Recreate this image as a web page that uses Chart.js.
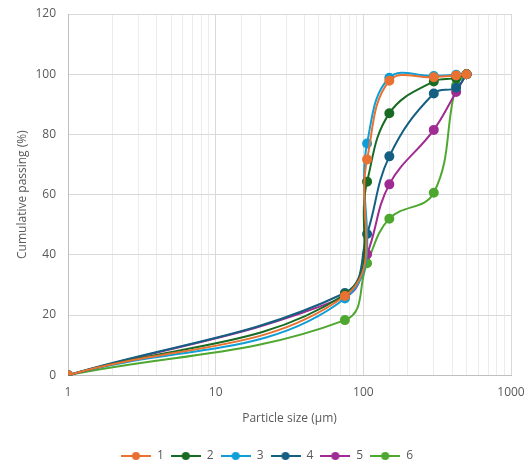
<!DOCTYPE html>
<html>
<head>
<meta charset="utf-8">
<script src="https://cdn.jsdelivr.net/npm/chart.js@4"></script>
<style>
  html, body { margin: 0; padding: 0; background: #fff; }
  #wrap { width: 531px; height: 463px; }
</style>
</head>
<body>
<div id="wrap"><canvas id="psd"></canvas></div>
<script>
// --- Data ---
const sizes = [1, 75, 106, 150, 300, 425, 500];
const seriesNames = ['1', '2', '3', '4', '5', '6'];
const series1 = [0, 26.3, 71.7, 97.8, 99.0, 99.6, 100];
const series2 = [0, 26.8, 64.3, 87.0, 97.6, 98.7, 100];
const series3 = [0, 25.5, 77.0, 98.8, 99.4, 99.8, 100];
const series4 = [0, 27.3, 46.9, 72.7, 93.6, 95.5, 100];
const series5 = [0, 26.0, 40.2, 63.4, 81.5, 94.1, 100];
const series6 = [0, 18.3, 37.2, 52.0, 60.6, 96.3, 100];
const yTicks = [0, 20, 40, 60, 80, 100, 120];
const xLabels = [1, 10, 100, 1000];

const colors = ['#E97132', '#196B24', '#0F9ED5', '#156082', '#A02B93', '#4EA72E'];
const allSeries = [series1, series2, series3, series4, series5, series6];
const textColor = '#595959';
const font = "'Open Sans', 'Liberation Sans', sans-serif";
const legendPad = 7;

// little line+marker swatch for the legend
function makeSwatch(color) {
    const c = document.createElement('canvas');
    c.width = 30;
    c.height = 10;
    const g = c.getContext('2d');
    g.strokeStyle = color;
    g.lineWidth = 2;
    g.beginPath();
    g.moveTo(0, 5);
    g.lineTo(30, 5);
    g.stroke();
    g.fillStyle = color;
    g.beginPath();
    g.arc(15, 5, 4, 0, Math.PI * 2);
    g.fill();
    return c;
}

// push the legend row a bit lower / right than the layout puts it
const legendNudge = {
    id: 'legendNudge',
    afterLayout(chart) {
        const lg = chart.legend;
        if (!lg) return;
        const shift = 456 - (lg.top + legendPad + 6);
        lg.top += shift;
        lg.bottom += shift;
        lg.left += 4;
        lg.right += 4;
    }
};

const datasets = allSeries.map((vals, i) => ({
    label: seriesNames[i],
    data: vals.map((v, j) => ({ x: sizes[j], y: v })),
    borderColor: colors[i],
    backgroundColor: colors[i],
    borderWidth: 2,
    pointRadius: 4,
    pointHoverRadius: 4,
    tension: 0.4,
    fill: false
}));

Chart.defaults.font.family = font;
Chart.defaults.color = textColor;

new Chart(document.getElementById('psd'), {
    type: 'line',
    data: { datasets: datasets },
    plugins: [legendNudge],
    options: {
        responsive: true,
        maintainAspectRatio: false,
        animation: false,
        layout: {
            autoPadding: false,
            padding: { left: 15, right: 20, top: 14, bottom: 0 }
        },
        plugins: {
            legend: {
                position: 'bottom',
                labels: {
                    usePointStyle: true,
                    pointStyleWidth: 30,
                    padding: legendPad,
                    font: { size: 12 },
                    color: textColor,
                    generateLabels: function(chart) {
                        return chart.data.datasets.map((ds, i) => ({
                            text: ds.label,
                            pointStyle: makeSwatch(colors[i]),
                            fillStyle: colors[i],
                            strokeStyle: colors[i],
                            lineWidth: 0,
                            fontColor: textColor,
                            datasetIndex: i
                        }));
                    }
                }
            },
            tooltip: { enabled: false }
        },
        scales: {
            x: {
                type: 'logarithmic',
                min: 1,
                max: 1000,
                afterFit: function(axis) {
                    axis.paddingLeft = 0;
                    axis.paddingRight = 0;
                },
                title: {
                    display: true,
                    text: 'Particle size (µm)',
                    font: { size: 12 },
                    color: textColor,
                    padding: { top: 2, bottom: 8 }
                },
                ticks: {
                    autoSkip: false,
                    maxRotation: 0,
                    padding: 10,
                    font: { size: 12 },
                    color: textColor,
                    callback: function(value) {
                        return xLabels.includes(value) ? String(value) : '';
                    }
                },
                grid: {
                    drawTicks: false,
                    color: function(ctx) {
                        const v = ctx.tick ? ctx.tick.value : 0;
                        return xLabels.includes(v) ? '#d9d9d9' : '#ececec';
                    }
                },
                border: { color: '#bfbfbf' }
            },
            y: {
                min: 0,
                max: 120,
                afterBuildTicks: function(axis) {
                    axis.ticks = yTicks.map(v => ({ value: v }));
                },
                afterFit: function(axis) {
                    axis.width = 53;
                    axis.paddingTop = 0;
                    axis.paddingBottom = 0;
                },
                title: {
                    display: true,
                    text: 'Cumulative passing (%)',
                    font: { size: 12 },
                    color: textColor,
                    padding: { top: 0, bottom: 0 }
                },
                ticks: {
                    padding: 12,
                    font: { size: 12 },
                    color: textColor
                },
                grid: { drawTicks: false, color: '#d9d9d9' },
                border: { color: '#bfbfbf' }
            }
        }
    }
});
</script>
</body>
</html>
